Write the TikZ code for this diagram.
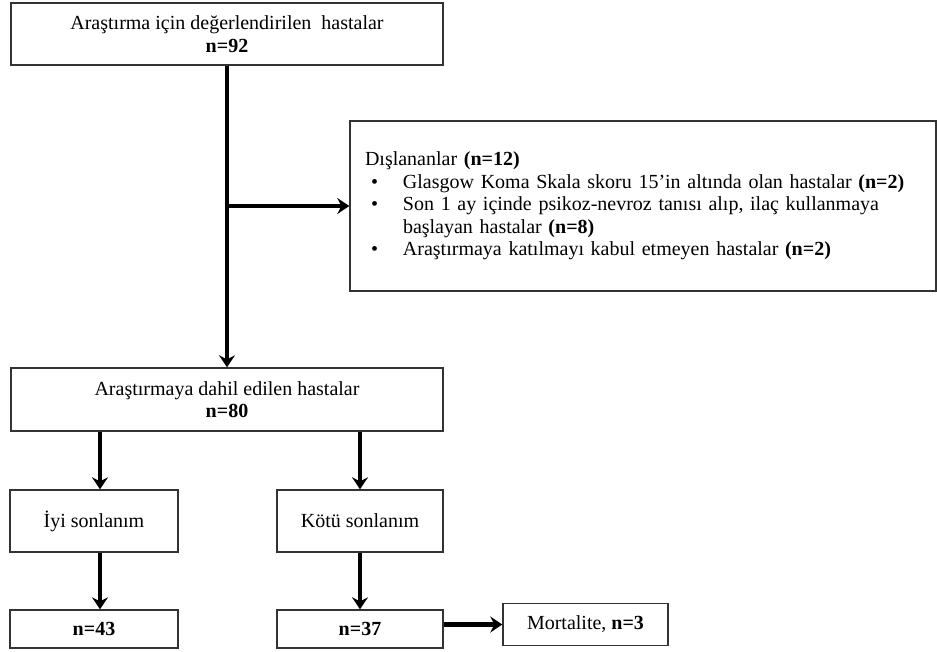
\documentclass[tikz,border=0pt]{standalone}
\usepackage{fontspec}
\setmainfont{Liberation Serif}
\usetikzlibrary{positioning, arrows.meta}
\newcommand{\bul}{\makebox[38pt][l]{\hspace{6pt}•}}

\begin{document}
\begin{tikzpicture}[x=1pt, y=-1pt, font=\fontsize{20}{22.5}\selectfont,
  box/.style={rectangle, draw=black!80, line width=1.4pt, align=center, inner sep=0pt},
  flow/.style={line width=3.4pt, -{Stealth[length=12pt, width=16pt, inset=4pt]}}]
  \useasboundingbox (0,0) rectangle (937,651);

  % nodes
  \node [box, minimum width=432, minimum height=62] (eval) at (227,34) {Araştırma için değerlendirilen\ \ hastalar\\ \textbf{n=92}};
  \node [box, minimum width=586, minimum height=170, text width=556, align=left] (excl) at (643,206)
    {Dışlananlar \textbf{(n=12)}\\
     \bul Glasgow Koma Skala skoru 15’in altında olan hastalar \textbf{(n=2)}\\
     \bul Son 1 ay içinde psikoz-nevroz tanısı alıp, ilaç kullanmaya\\
     \hspace*{38pt}başlayan hastalar \textbf{(n=8)}\\
     \bul Araştırmaya katılmayı\ kabul etmeyen hastalar \textbf{(n=2)}};
  \node [box, minimum width=432, minimum height=63] (incl) at (227,399.5) {Araştırmaya dahil edilen hastalar\\ \textbf{n=80}};
  \node [box, minimum width=168, minimum height=62] (good) at (94,521) {İyi sonlanım};
  \node [box, minimum width=166, minimum height=62] (bad) at (360,521) {Kötü sonlanım};
  \node [box, minimum width=168, minimum height=38] (goodn) at (94,629) {\textbf{n=43}};
  \node [box, minimum width=166, minimum height=38] (badn) at (360,629) {\textbf{n=37}};
  \node [box, minimum width=165, minimum height=42] (mort) at (585.5,624.5) {Mortalite, \textbf{n=3}};

  % edges
  \draw [flow] (eval.south) -- (incl.north);
  \draw [flow] (eval.south |- excl.west) -- (excl.west);
  \draw [flow] ([xshift=6pt]good.north |- incl.south) -- ([xshift=6pt]good.north);
  \draw [flow] (bad.north |- incl.south) -- (bad.north);
  \draw [flow] ([xshift=6pt]good.south) -- ([xshift=6pt]goodn.north);
  \draw [flow] (bad.south) -- (badn.north);
  \draw [flow, line width=5pt] (badn.east |- mort.west) -- (mort.west);
\end{tikzpicture}
\end{document}
